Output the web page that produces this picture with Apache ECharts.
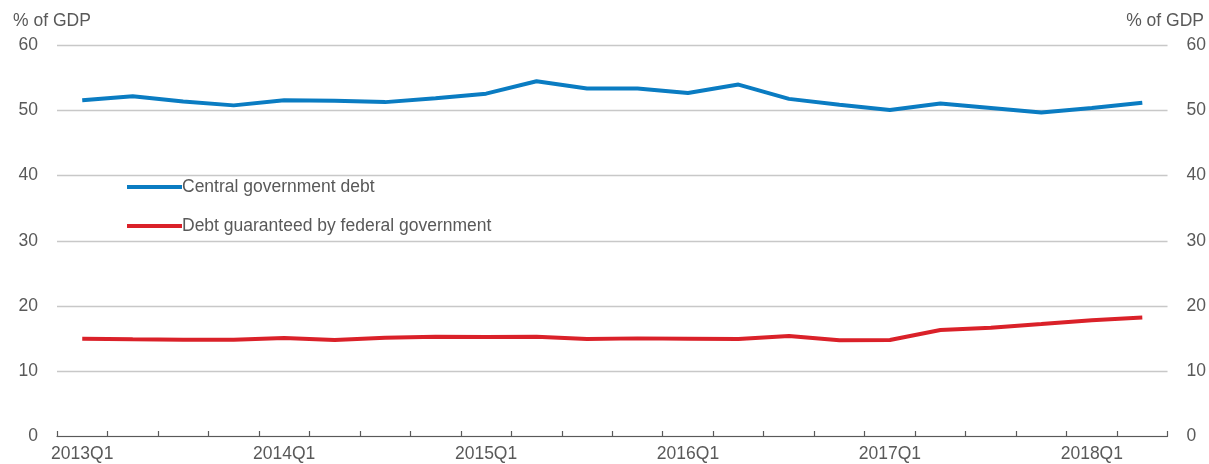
<!DOCTYPE html>
<html>
<head>
<meta charset="utf-8">
<script src="https://cdn.jsdelivr.net/npm/echarts@6/dist/echarts.min.js"></script>
<style>
  html, body { margin: 0; padding: 0; background: #ffffff; }
  #chart { width: 1209px; height: 464px; }
</style>
</head>
<body>
<div id="chart"></div>
<script>
// Quarterly categories, 2013Q1 to 2018Q2
const quarters = [
  '2013Q1', '2013Q2', '2013Q3', '2013Q4',
  '2014Q1', '2014Q2', '2014Q3', '2014Q4',
  '2015Q1', '2015Q2', '2015Q3', '2015Q4',
  '2016Q1', '2016Q2', '2016Q3', '2016Q4',
  '2017Q1', '2017Q2', '2017Q3', '2017Q4',
  '2018Q1', '2018Q2'
];

// Central government debt, % of GDP
const centralDebt = [
  51.6, 52.2, 51.4, 50.8, 51.6, 51.5, 51.3, 51.9,
  52.6, 54.5, 53.4, 53.4, 52.7, 54.0, 51.8, 50.9,
  50.1, 51.1, 50.4, 49.7, 50.4, 51.2
];

// Debt guaranteed by federal government, % of GDP
const guaranteedDebt = [
  14.95, 14.85, 14.8, 14.8, 15.05, 14.75, 15.1, 15.25,
  15.2, 15.25, 14.9, 15.0, 14.95, 14.9, 15.35, 14.7,
  14.75, 16.3, 16.65, 17.2, 17.8, 18.2
];

const yTicks = { min: 0, max: 60, interval: 10 };
const unitLabel = '% of GDP';
const seriesNames = ['Central government debt', 'Debt guaranteed by federal government'];

const FONT = '"Liberation Sans", Arial, sans-serif';
const FS = 17.5;
const TEXT = '#595959';
const BLUE = '#0a7cc2';
const RED = '#da2129';

const chart = echarts.init(document.getElementById('chart'), null, { renderer: 'canvas' });

const valueAxis = (position, withGrid) => ({
  type: 'value',
  position: position,
  min: yTicks.min,
  max: yTicks.max,
  interval: yTicks.interval,
  axisLine: { show: false },
  axisTick: { show: false },
  axisLabel: {
    color: TEXT,
    fontFamily: FONT,
    fontSize: FS,
    margin: 19
  },
  splitLine: {
    show: withGrid,
    lineStyle: { color: '#c8c8c8', width: 1.3 }
  }
});

chart.setOption({
  animation: false,
  backgroundColor: '#ffffff',
  textStyle: { fontFamily: FONT },
  grid: { left: 57, right: 39, top: 45.5, bottom: 28, containLabel: false },
  graphic: [
    {
      type: 'text', left: 13, top: 12,
      style: { text: unitLabel, fill: TEXT, font: FS + 'px ' + FONT }
    },
    {
      type: 'text', right: 5, top: 12,
      style: { text: unitLabel, fill: TEXT, font: FS + 'px ' + FONT }
    }
  ],
  legend: {
    orient: 'vertical',
    left: 122,
    top: 172,
    itemWidth: 55,
    itemHeight: 4,
    itemGap: 19,
    icon: 'rect',
    textStyle: { color: TEXT, fontFamily: FONT, fontSize: FS, lineHeight: 20, padding: [0, 0, 0, -5] },
    data: seriesNames
  },
  xAxis: {
    type: 'category',
    data: quarters,
    boundaryGap: true,
    axisLine: { show: true, lineStyle: { color: '#595959', width: 1.2 } },
    axisTick: { show: true, inside: true, length: 5, interval: 0, lineStyle: { color: '#595959', width: 1.2 } },
    axisLabel: {
      interval: 3,
      color: TEXT,
      fontFamily: FONT,
      fontSize: FS,
      margin: 9
    },
    splitLine: { show: false }
  },
  yAxis: [valueAxis('left', true), valueAxis('right', false)],
  series: [
    {
      name: seriesNames[0],
      type: 'line',
      data: centralDebt,
      yAxisIndex: 0,
      showSymbol: false,
      symbol: 'none',
      lineStyle: { color: BLUE, width: 4 },
      itemStyle: { color: BLUE }
    },
    {
      name: seriesNames[1],
      type: 'line',
      data: guaranteedDebt,
      yAxisIndex: 0,
      showSymbol: false,
      symbol: 'none',
      lineStyle: { color: RED, width: 4 },
      itemStyle: { color: RED }
    }
  ]
});
</script>
</body>
</html>
